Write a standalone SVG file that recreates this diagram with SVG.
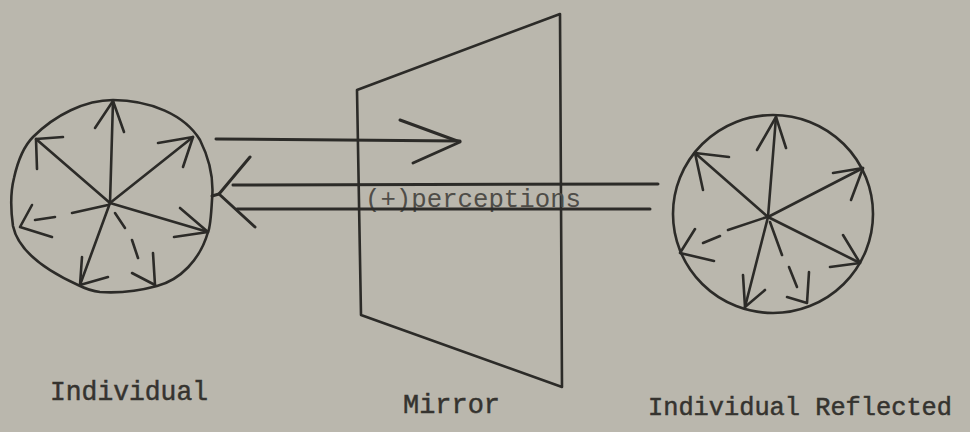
<svg xmlns="http://www.w3.org/2000/svg" width="970" height="432" viewBox="0 0 970 432">
<style>
.ln{fill:none;stroke:#2c2b28;stroke-width:2.6;stroke-linecap:round;stroke-linejoin:round}
.th{fill:none;stroke:#2c2b28;stroke-width:3;stroke-linecap:round;stroke-linejoin:round}
.lbl{font-family:"Liberation Mono","Courier New",monospace;font-size:28px;fill:#35332f;stroke:#35332f;stroke-width:0.5}
.pc{font-family:"Liberation Mono","Courier New",monospace;font-size:26px;fill:#4f4d48}
</style>
<rect width="970" height="432" fill="#bab7ad"/>

<g id="individual">
<path class="ln" d="M113,100 C150,100 185,115 200,140 C210,160 214,180 212,200 C211,218 210,228 208,232 C200,260 180,280 157,286 C135,292 115,293 100,292 C90,291 84,288 78,285 C45,270 18,250 13,226 C10,205 11,190 14,178 C18,160 25,145 33,137 C55,115 85,100 113,100 Z"/>
<line class="ln" x1="110" y1="203" x2="113" y2="101"/>
<polyline class="ln" points="95,128 113,101 124,132"/>
<line class="ln" x1="110" y1="203" x2="36" y2="139"/>
<polyline class="ln" points="37,169 36,139 63,137"/>
<line class="ln" x1="110" y1="203" x2="193" y2="137"/>
<polyline class="ln" points="158,143 193,137 183,167"/>
<line class="ln" x1="110" y1="203" x2="208" y2="232"/>
<polyline class="ln" points="180,208 208,232 174,237"/>
<line class="ln" x1="110" y1="203" x2="80" y2="285"/>
<polyline class="ln" points="82,257 80,285 108,277"/>
<line class="ln" x1="115" y1="213" x2="125" y2="228"/>
<line class="ln" x1="132" y1="240" x2="138" y2="258"/>
<line class="ln" x1="153" y1="253" x2="155" y2="285"/>
<polyline class="ln" points="132,273 155,285"/>
<line class="ln" x1="72" y1="213" x2="108" y2="205"/>
<line class="ln" x1="35" y1="220" x2="55" y2="217"/>
<polyline class="ln" points="32,205 20,227 52,237"/>
</g>

<g id="mirror">
<polygon class="ln" points="357,90 560,14 562,387 361,315"/>
</g>

<g id="reflected">
<ellipse class="ln" cx="773" cy="214" rx="100" ry="99"/>
<line class="ln" x1="768" y1="217" x2="776" y2="117"/>
<polyline class="ln" points="757,150 776,117 786,148"/>
<line class="ln" x1="768" y1="217" x2="695" y2="153"/>
<polyline class="ln" points="703,190 695,153 729,157"/>
<line class="ln" x1="768" y1="217" x2="863" y2="168"/>
<polyline class="ln" points="833,173 863,168 851,200"/>
<line class="ln" x1="768" y1="217" x2="860" y2="263"/>
<polyline class="ln" points="843,235 860,263 830,267"/>
<line class="ln" x1="768" y1="217" x2="745" y2="307"/>
<polyline class="ln" points="743,275 745,307 765,290"/>
<line class="ln" x1="728" y1="230" x2="767" y2="217"/>
<line class="ln" x1="703" y1="243" x2="720" y2="236"/>
<polyline class="ln" points="695,229 680,253 714,261"/>
<line class="ln" x1="770" y1="222" x2="782" y2="255"/>
<line class="ln" x1="789" y1="267" x2="797" y2="287"/>
<polyline class="ln" points="809,272 807,303 787,297"/>
</g>

<text class="pc" x="365" y="207" textLength="216" lengthAdjust="spacingAndGlyphs">(+)perceptions</text>

<g id="connectors">
<line class="th" x1="216" y1="139" x2="460" y2="141"/>
<polyline class="th" points="400,120 460,142 413,163"/>
<line class="th" x1="233" y1="185" x2="658" y2="184"/>
<line class="th" x1="237" y1="209" x2="650" y2="209"/>
<polyline class="th" points="250,157 219,194 255,227"/>
<line class="th" x1="212" y1="196" x2="219" y2="194"/>
</g>

<text class="lbl" x="50" y="400" textLength="158" lengthAdjust="spacingAndGlyphs">Individual</text>
<text class="lbl" x="403" y="413" textLength="97" lengthAdjust="spacingAndGlyphs">Mirror</text>
<text class="lbl" x="648" y="415" textLength="304" lengthAdjust="spacingAndGlyphs" style="font-size:26px">Individual Reflected</text>
</svg>
